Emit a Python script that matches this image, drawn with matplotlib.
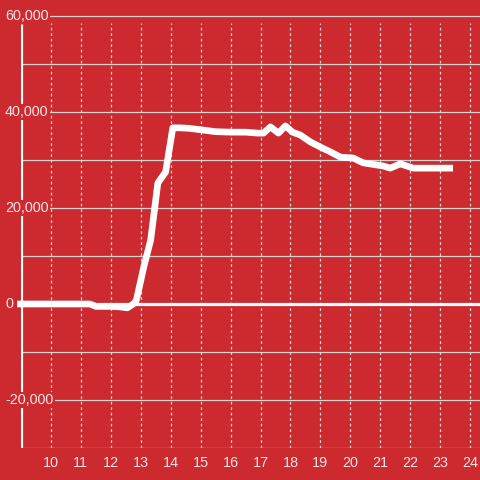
"""
Line chart: hourly totals on a red background
"""

import matplotlib
matplotlib.use('Agg')
from matplotlib import pyplot as plt
from matplotlib import transforms

plt.rcParams['font.family'] = ['Liberation Sans', 'DejaVu Sans']

BG = '#cc2a2f'
GRID = '#d8d4d4'
TEXT = '#f6e4e4'

# data
hours = [8.87, 9.5, 10.0, 10.5, 11.0, 11.3, 11.5, 12.0, 12.3, 12.55,
         12.75, 12.85, 13.1, 13.33, 13.57, 13.83, 14.07, 14.3, 14.6,
         15.0, 15.5, 16.0, 16.5, 16.9, 17.1, 17.33, 17.6, 17.83, 18.07,
         18.33, 18.67, 19.0, 19.33, 19.67, 20.1, 20.43, 21.1, 21.33,
         21.67, 22.1, 23.43]
values = [0, 0, 0, 0, 0, 0, -500, -500, -600, -800,
          0, 700, 7700, 13300, 25200, 27500, 36700, 36700, 36600,
          36300, 35900, 35800, 35800, 35600, 35600, 36900, 35600, 37100,
          35800, 35200, 33750, 32700, 31700, 30600, 30400, 29400, 28750,
          28300, 29200, 28300, 28300]

x_ticks = list(range(10, 25))
y_grid = list(range(-30000, 60001, 10000))
y_labels = [-20000, 0, 20000, 40000, 60000]


def draw():
    fig = plt.figure(figsize=(4.8, 4.8), dpi=100, facecolor=BG)
    ax = fig.add_axes([21 / 480, 32 / 480, 459 / 480, 448 / 480])
    ax.set_facecolor(BG)
    ax.set_xlim(9.0, 24.33)
    ax.set_ylim(-30000, 63333)
    for side in ax.spines.values():
        side.set_visible(False)

    # grid
    ax.hlines(y_grid, 9.0, 24.33, colors=GRID, linewidth=0.9, zorder=1)
    ax.vlines(x_ticks, -30000, 58500, colors=GRID, linewidth=0.9,
              linestyles=(0, (2.2, 2.2)), zorder=1)

    # left axis line and zero line
    ax.plot([9.0, 9.0], [-30000, 58300], color='white', linewidth=2.3,
            solid_capstyle='butt', zorder=2)
    ax.axhline(0, color='white', linewidth=2.3, zorder=2)

    ax.plot(hours, values, color='white', linewidth=4.8,
            solid_joinstyle='round', solid_capstyle='butt',
            clip_on=False, zorder=3)

    # y labels sit on top of the axis line with a red box
    trans = transforms.blended_transform_factory(fig.transFigure, ax.transData)
    for v in y_labels:
        ax.text(5 / 480, v, f'{v:,}', transform=trans,
                ha='left', va='center', fontsize=10.4, color=TEXT,
                bbox=dict(facecolor=BG, edgecolor='none', pad=1.0),
                zorder=4)

    ax.set_yticks([])
    ax.set_xticks(x_ticks)
    ax.set_xticklabels([str(t) for t in x_ticks])
    ax.tick_params(axis='x', length=0, pad=6, labelsize=10.4,
                   labelcolor=TEXT)

    fig.savefig('out.png', dpi=100, facecolor=BG)


if __name__ == '__main__':
    draw()
